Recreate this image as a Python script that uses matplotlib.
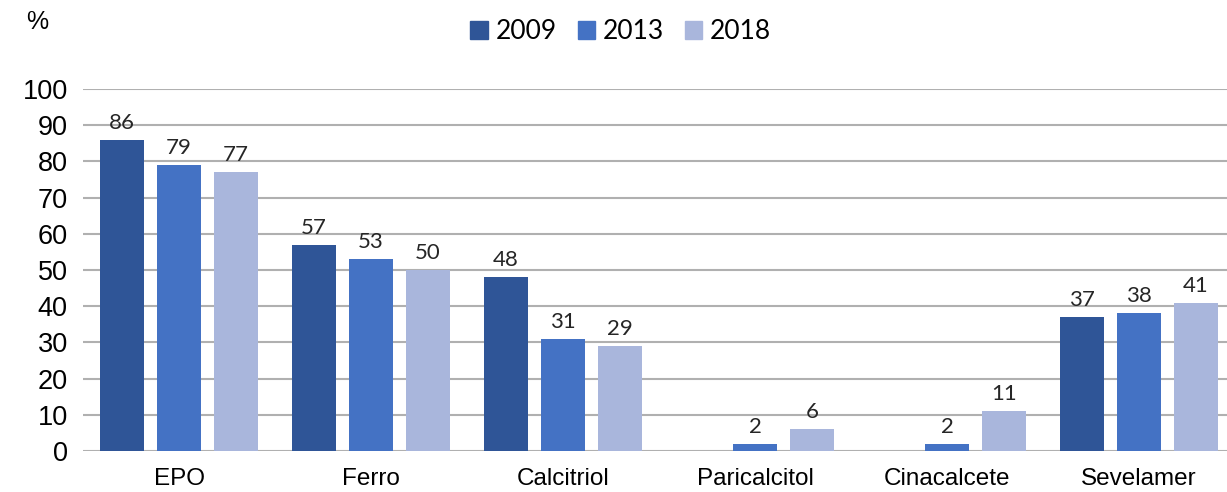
import numpy as np
import matplotlib.pyplot as plt
from matplotlib.patches import Patch

categories = ["EPO", "Ferro", "Calcitriol", "Paricalcitol", "Cinacalcete", "Sevelamer"]
years = ["2009", "2013", "2018"]
v2009 = [86, 57, 48, np.nan, np.nan, 37]
v2013 = [79, 53, 31, 2, 2, 38]
v2018 = [77, 50, 29, 6, 11, 41]
colors = ["#2F5597", "#4472C4", "#A9B6DC"]

fig = plt.figure(figsize=(12.27, 4.92), dpi=100)
ax = fig.add_axes([83 / 1227, 41 / 492, 1144 / 1227, 362 / 492])

x = np.arange(len(categories))
step = 0.297
width = 0.232

for i, (vals, col) in enumerate(zip([v2009, v2013, v2018], colors)):
    pos = x + (i - 1) * step
    ax.bar(pos, vals, width=width, color=col, zorder=3)
    for xp, v in zip(pos, vals):
        if np.isnan(v):
            continue
        ax.annotate(f"{v:.0f}", (xp, v), xytext=(0, 5), textcoords="offset points",
                    ha="center", va="bottom", fontsize=16, family="Lato", color="#262626")

ax.set_xlim(-0.5, -0.5 + 1144 / 192)
ax.set_ylim(0, 100)
ax.set_yticks(range(0, 101, 10))
ax.set_xticks(x)
ax.set_xticklabels(categories, fontsize=17.5, family="Liberation Sans")
ax.tick_params(axis="y", labelsize=19.5, length=0, pad=11)
ax.tick_params(axis="x", length=0, pad=12)
for lab in ax.get_yticklabels():
    lab.set_family("Liberation Sans")

ax.grid(axis="y", color="#B0B0B0", lw=1.5, zorder=0)
for s in ax.spines.values():
    s.set_visible(False)

fig.text(37 / 1227, 1 - 22 / 492, "%", fontsize=18, family="Liberation Sans",
         ha="center", va="center")

handles = [Patch(color=c) for c in colors]
fig.legend(handles, years, loc="center", bbox_to_anchor=(0.506, 0.935), ncol=3,
           frameon=False, handlelength=0.65, handleheight=0.65, handletextpad=0.3,
           columnspacing=0.8, prop={"family": "Lato", "size": 19})

fig.savefig("out.png", dpi=100)
